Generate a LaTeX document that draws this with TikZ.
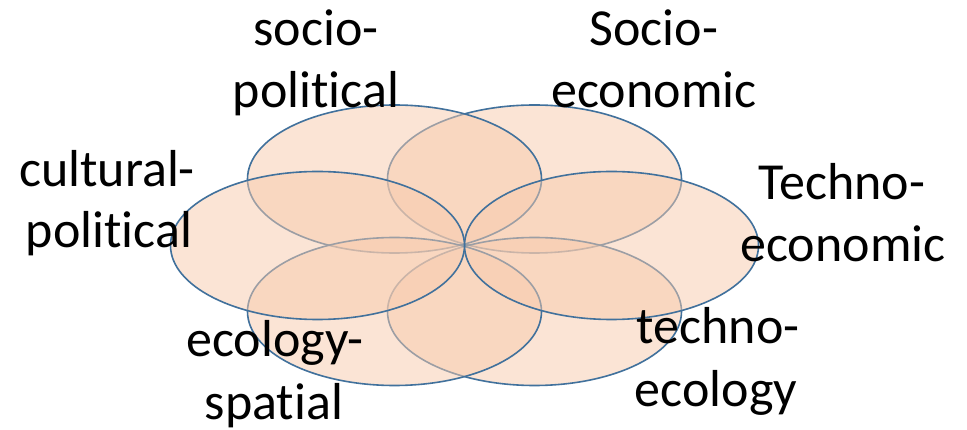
\documentclass[tikz,border=0pt]{standalone}
\usepackage{fontspec}
\setmainfont{Carlito}[Ligatures=NoCommon]
\usetikzlibrary{shapes.geometric}
\definecolor{ringline}{HTML}{41719C}
\definecolor{ringfill}{HTML}{F8CBAD}
\tikzset{
  ring/.style={ellipse, draw=ringline, line width=1.6pt, fill=ringfill, fill opacity=0.5, draw opacity=1,
    minimum width=294pt, minimum height=148pt, inner sep=0pt, outer sep=0pt},
  lbl/.style={anchor=base, inner sep=0pt, font=\fontsize{52}{62}\selectfont, text=black}
}
\begin{document}
\begin{tikzpicture}[x=1pt,y=-1pt]
\useasboundingbox (0,0) rectangle (967,430);
\fill[white] (0,0) rectangle (967,430);
% ellipses, bottom to top
\node[ring] (tr) at (534.5,179) {};
\node[ring] (br) at (534.5,311.5) {};
\node[ring] (tl) at (394.5,179) {};
\node[ring] (bl) at (394.5,311.5) {};
\node[ring] (r) at (611.5,245.5) {};
\node[ring] (l) at (317.5,245.5) {};
% labels
\node[lbl] (sp1) at (316,45.7) {socio-};
\node[lbl] (sp2) at (316,108) {political};
\node[lbl] (se1) at (654,45.7) {Socio-};
\node[lbl] (se2) at (654,108) {economic};
\node[lbl] (cp1) at (107,186.7) {cultural-};
\node[lbl] (cp2) at (109,248) {political};
\node[lbl] (te1) at (842,200) {Techno-};
\node[lbl] (te2) at (843,261.7) {economic};
\node[lbl] (es1) at (275,356.7) {ecology-};
\node[lbl] (es2) at (274,419) {spatial};
\node[lbl] (tec1) at (718,343.3) {techno-};
\node[lbl] (tec2) at (716,406.7) {ecology};
\end{tikzpicture}
\end{document}
